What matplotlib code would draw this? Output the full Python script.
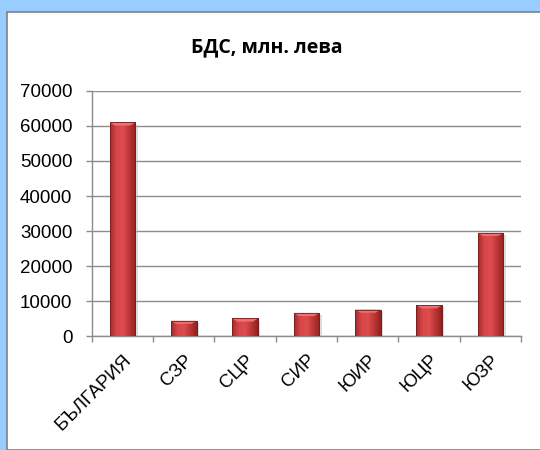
import numpy as np
import matplotlib.pyplot as plt
from matplotlib.patches import Rectangle, Polygon
from matplotlib.colors import LinearSegmentedColormap

regions = ['БЪЛГАРИЯ', 'СЗР', 'СЦР', 'СИР', 'ЮИР', 'ЮЦР', 'ЮЗР']
gdp = [61000, 4400, 5050, 6650, 7600, 8850, 29500]
title = 'БДС, млн. лева'

fig = plt.figure(figsize=(5.4, 4.5), dpi=100)
fig.patch.set_facecolor('#99CCFF')
# white chart area with grey border
fig.add_artist(Rectangle((7 / 540, 0), 1.0, (450 - 12) / 450, transform=fig.transFigure,
                         facecolor='white', edgecolor='#808080', linewidth=1.2, zorder=0))

ax = fig.add_axes([0.170, 0.253, 0.795, 0.545])
ax.set_facecolor('none')

x = np.arange(len(regions))
bw = 0.42
bars = ax.bar(x, gdp, width=bw, color='#C0393B', edgecolor='#7A1C1C', linewidth=0.6, zorder=3)

# horizontal shading inside each bar
cmap = LinearSegmentedColormap.from_list('red3d', ['#A22C2C', '#D84648', '#DC4C4E', '#BC3636', '#902222'])
grad = np.linspace(0, 1, 64).reshape(1, -1)
for b in bars:
    x0, w, h = b.get_x(), b.get_width(), b.get_height()
    im = ax.imshow(grad, cmap=cmap, aspect='auto', extent=(x0, x0 + w, 0, h), zorder=3.5)
    im.set_clip_path(b)
    # lighter bevel on top
    cap = min(900, h * 0.25)
    ax.add_patch(Polygon([(x0, h), (x0 + w, h), (x0 + w * 0.8, h - cap), (x0 + w * 0.2, h - cap)],
                         closed=True, facecolor='#EE7070', edgecolor='none', zorder=4))
    ax.add_patch(Rectangle((x0, 0), w, h, facecolor='none', edgecolor='#7A1C1C', linewidth=0.6, zorder=4.5))
    # soft shadow on the right
    ax.add_patch(Rectangle((x0 + w, 0), 0.04, h - 600, facecolor='#BBBBBB', edgecolor='none',
                           alpha=0.5, zorder=2.5))

ax.set_xlim(-0.5, len(regions) - 0.5)
ax.set_ylim(0, 70000)
ax.set_yticks(np.arange(0, 70001, 10000))
ax.yaxis.grid(True, color='#8C8C8C', linewidth=1.0, zorder=0)
ax.set_axisbelow(True)

ax.set_xticks(np.arange(-0.5, len(regions)), minor=False)
ax.set_xticklabels([])
ax.set_xticks(x, minor=True)
ax.set_xticklabels(regions, minor=True, rotation=45, ha='right', va='top',
                   rotation_mode='anchor', fontsize=13.5, family='Liberation Sans')
ax.tick_params(axis='x', which='minor', length=0, pad=11)
ax.tick_params(axis='x', which='major', length=4, color='#8C8C8C', width=1.0)
ax.tick_params(axis='y', length=4, color='#8C8C8C', width=1.0, labelsize=13.5, pad=10)
for t in ax.get_yticklabels():
    t.set_family('Liberation Sans')

for s in ['top', 'right']:
    ax.spines[s].set_visible(False)
for s in ['left', 'bottom']:
    ax.spines[s].set_color('#8C8C8C')
    ax.spines[s].set_linewidth(1.0)

fig.text(0.494, 0.895, title, ha='center', va='center', fontsize=14, fontweight='bold',
         family='Open Sans')

fig.savefig('out.png', dpi=100, facecolor=fig.get_facecolor())
